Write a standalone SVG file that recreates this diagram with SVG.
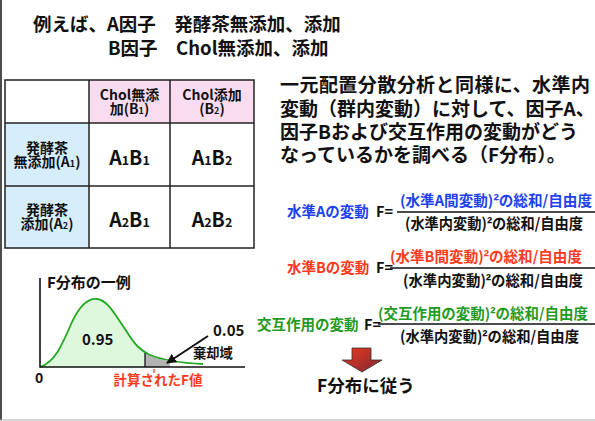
<svg xmlns="http://www.w3.org/2000/svg" width="595" height="421" viewBox="0 0 595 421">
<style>
text{font-family:"Noto Sans CJK JP","Liberation Sans",sans-serif;font-weight:bold;fill:#111}
.t{font-size:18.5px}
.p{font-size:19px}
.h{font-size:14px;text-anchor:middle}
.c{font-size:19.5px;text-anchor:middle}
.lab{font-size:14.5px}
.fn{font-size:14.5px}
.fd{font-size:15px}
.sq{font-family:"Liberation Sans",sans-serif;font-size:1.1em}
.blue{fill:#2141f0}
.red{fill:#ff3a1c}
.green{fill:#1f9a22}
.grid{stroke:#222;stroke-width:1.5;fill:none}
.frac{stroke:#111;stroke-width:1.3}
.ax{stroke:#111;stroke-width:1.6;fill:none}
</style>
<defs>
<linearGradient id="ag" x1="0" y1="0" x2="1" y2="1">
<stop offset="0" stop-color="#ec3a20"/>
<stop offset="1" stop-color="#7c2630"/>
</linearGradient>
<marker id="ah" viewBox="0 0 10 10" refX="9" refY="5" markerWidth="5" markerHeight="5" orient="auto">
<path d="M0,0 L10,5 L0,10 z" fill="#111"/>
</marker>
</defs>
<rect x="0" y="0" width="595" height="421" fill="#fff"/>
<line x1="1" y1="0" x2="1" y2="420" stroke="#111" stroke-width="1.5"/>
<line x1="0" y1="420" x2="595" y2="420" stroke="#aaa" stroke-width="1.2"/>

<g id="title">
<text class="t" x="33" y="31">例えば、A因子　発酵茶無添加、添加</text>
<text class="t" x="108" y="55">B因子　Chol無添加、添加</text>
</g>

<g id="table">
<rect x="89" y="80" width="165" height="43" fill="#fadcf0"/>
<rect x="5" y="123" width="84" height="125" fill="#d6edfb"/>
<rect x="5" y="80" width="249" height="168" class="grid" stroke-width="2"/>
<line x1="5" y1="123" x2="254" y2="123" class="grid"/>
<line x1="5" y1="186" x2="254" y2="186" class="grid"/>
<line x1="89" y1="80" x2="89" y2="248" class="grid"/>
<line x1="170" y1="80" x2="170" y2="248" class="grid"/>
<text class="h" x="129.5" y="100">Chol無添</text>
<text class="h" x="129.5" y="114">加(B<tspan font-size="9">1</tspan>)</text>
<text class="h" x="212" y="100">Chol添加</text>
<text class="h" x="212" y="114">(B<tspan font-size="9">2</tspan>)</text>
<text class="h" x="47" y="153">発酵茶</text>
<text class="h" x="47" y="167">無添加(A<tspan font-size="9">1</tspan>)</text>
<text class="h" x="47" y="215">発酵茶</text>
<text class="h" x="47" y="229">添加(A<tspan font-size="9">2</tspan>)</text>
<text class="c" x="129.5" y="165">A<tspan font-size="12.5">1</tspan>B<tspan font-size="12.5">1</tspan></text>
<text class="c" x="212" y="165">A<tspan font-size="12.5">1</tspan>B<tspan font-size="12.5">2</tspan></text>
<text class="c" x="129.5" y="227">A<tspan font-size="12.5">2</tspan>B<tspan font-size="12.5">1</tspan></text>
<text class="c" x="212" y="227">A<tspan font-size="12.5">2</tspan>B<tspan font-size="12.5">2</tspan></text>
</g>

<g id="paragraph">
<text class="p" x="280" y="92" textLength="310">一元配置分散分析と同様に、水準内</text>
<text class="p" x="280" y="116">変動（群内変動）に対して、因子A、</text>
<text class="p" x="280" y="139">因子Bおよび交互作用の変動がどう</text>
<text class="p" x="280" y="162">なっているかを調べる（F分布）。</text>
</g>

<g id="formula-a">
<text class="lab blue" x="287" y="217">水準Aの変動</text>
<text class="lab" x="376" y="217">F=</text>
<text class="fn blue" x="400" y="206" textLength="192" lengthAdjust="spacingAndGlyphs">(水準A間変動)<tspan class="sq">²</tspan>の総和/自由度</text>
<line class="frac" x1="397" y1="212" x2="595" y2="212"/>
<text class="fd" x="405" y="229" textLength="178" lengthAdjust="spacingAndGlyphs">(水準内変動)<tspan class="sq">²</tspan>の総和/自由度</text>
</g>

<g id="formula-b">
<text class="lab red" x="287" y="273">水準Bの変動</text>
<text class="lab" x="376" y="273">F=</text>
<text class="fn red" x="390" y="262" textLength="192" lengthAdjust="spacingAndGlyphs">(水準B間変動)<tspan class="sq">²</tspan>の総和/自由度</text>
<line class="frac" x1="390" y1="268" x2="595" y2="268"/>
<text class="fd" x="403" y="286" textLength="180" lengthAdjust="spacingAndGlyphs">(水準内変動)<tspan class="sq">²</tspan>の総和/自由度</text>
</g>

<g id="formula-ab">
<text class="lab green" x="257" y="330">交互作用の変動</text>
<text class="lab" x="364" y="330">F=</text>
<text class="fn green" x="378" y="319" textLength="210" lengthAdjust="spacingAndGlyphs">(交互作用の変動)<tspan class="sq">²</tspan>の総和/自由度</text>
<line class="frac" x1="378" y1="324" x2="595" y2="324"/>
<text class="fd" x="400" y="342" textLength="179" lengthAdjust="spacingAndGlyphs">(水準内変動)<tspan class="sq">²</tspan>の総和/自由度</text>
</g>

<g id="chart">
<path d="M40,367 C55,362 62,345 72,322 C80,305 88,298 97,299 C108,300 115,315 127,332 C135,345 140,350 145,353 L145,367 Z" fill="#ddf8dd"/>
<path d="M145,353 C152,357 160,360 170,361.5 L170,367 L145,367 Z" fill="#b3b3b3"/>
<path d="M40,367 C55,362 62,345 72,322 C80,305 88,298 97,299 C108,300 115,315 127,332 C135,345 140,350 150,355 C165,361 180,363 203,364" fill="none" stroke="#22aa22" stroke-width="1.8"/>
<line x1="145" y1="353" x2="145" y2="367" stroke="#111" stroke-width="1.3"/>
<path class="ax" d="M40,278 L40,367 L245,367"/>
<text x="47" y="288" font-size="15">F分布の一例</text>
<text x="35" y="383" font-size="14">0</text>
<text x="82" y="345" font-size="15">0.95</text>
<text x="213" y="336" font-size="15">0.05</text>
<text x="193" y="358" font-size="13.3" fill="#333">棄却域</text>
<line x1="208" y1="336" x2="167" y2="363" stroke="#111" stroke-width="2" marker-end="url(#ah)"/>
<line x1="154" y1="369" x2="154" y2="373" stroke="#ff3a1c" stroke-width="1.3"/>
<text class="red" x="158" y="385" font-size="13.5" text-anchor="middle">計算されたF値</text>
</g>

<g id="connectors">
<path d="M352,348 L371,348 L371,360 L382,360 L362,372 L342,360 L352,360 Z" fill="url(#ag)" stroke="#333" stroke-width="0.8"/>
</g>

<g id="conclusion">
<text x="317" y="392" font-size="17.5">F分布に従う</text>
</g>
</svg>
